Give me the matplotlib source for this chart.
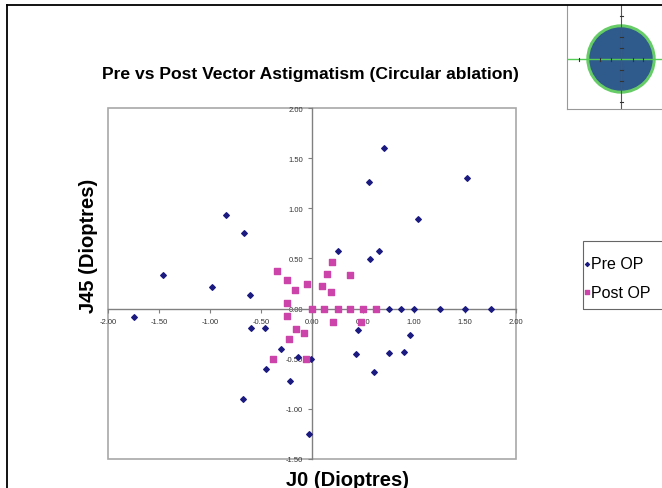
'''Pre vs post vector astigmatism scatter.'''
import matplotlib
matplotlib.use('Agg')
import matplotlib.pyplot as plt
from matplotlib.patches import Rectangle, Circle
from matplotlib.lines import Line2D

# Pre OP (J0, J45)
pre_j0 = [-0.84, -0.67, -1.46, -0.98, -0.61, -1.75,
          0.71, 0.56, 1.52, 1.04, 0.25, 0.66, 0.57,
          0.75, 0.87, 1.00, 1.25, 1.50, 1.75,
          -0.60, -0.46, -0.30, -0.14, -0.01, -0.45, -0.22, -0.68, -0.03,
          0.45, 0.43, 0.75, 0.90, 0.96, 0.61]
pre_j45 = [0.93, 0.75, 0.33, 0.22, 0.14, -0.08,
           1.60, 1.26, 1.30, 0.89, 0.57, 0.57, 0.49,
           0.00, 0.00, 0.00, 0.00, 0.00, 0.00,
           -0.19, -0.19, -0.40, -0.48, -0.50, -0.60, -0.72, -0.90, -1.25,
           -0.21, -0.45, -0.44, -0.43, -0.26, -0.63]

# Post OP (J0, J45)
post_j0 = [-0.34, -0.25, -0.17, -0.05, -0.25, 0.00, -0.25,
           0.10, 0.15, 0.20, 0.19, 0.37,
           0.12, 0.25, 0.37, 0.50, 0.63,
           -0.16, -0.08, -0.23, -0.38, -0.06, 0.21, 0.48]
post_j45 = [0.37, 0.28, 0.19, 0.25, 0.06, 0.00, -0.07,
            0.23, 0.34, 0.46, 0.17, 0.33,
            0.00, 0.00, 0.00, 0.00, 0.00,
            -0.20, -0.24, -0.30, -0.50, -0.50, -0.13, -0.13]

x_ticks = [-2.0, -1.5, -1.0, -0.5, 0.0, 0.5, 1.0, 1.5, 2.0]
y_ticks = [-1.5, -1.0, -0.5, 0.0, 0.5, 1.0, 1.5, 2.0]

W, H = 662, 489
fig = plt.figure(figsize=(W / 100, H / 100), dpi=100)
plt.rcParams['font.family'] = ['Liberation Sans', 'DejaVu Sans']

ax = fig.add_axes([108 / W, 1 - 460 / H, 408 / W, 351 / H])
ax.scatter(pre_j0, pre_j45, marker='D', s=8, color='#1a1a80', label='Pre OP', zorder=3)
ax.scatter(post_j0, post_j45, marker='s', s=14, color='#cc44aa', label='Post OP', zorder=3)
ax.set_xlim(-2, 2)
ax.set_ylim(-1.5, 2)
ax.set_xticks(x_ticks)
ax.set_yticks(y_ticks)
ax.set_xticklabels([f'{v:.2f}' for v in x_ticks])
ax.set_yticklabels([f'{v:.2f}' for v in y_ticks])
ax.tick_params(labelsize=5.5, labelcolor='#333333', color='#808080', length=3, width=0.8)

# axes cross at zero, grey frame round the plot area
ax.spines['left'].set_position(('data', 0))
ax.spines['bottom'].set_position(('data', 0))
for s in ['left', 'bottom']:
    ax.spines[s].set_color('#808080')
    ax.spines[s].set_linewidth(1.0)
ax.spines['top'].set_visible(False)
ax.spines['right'].set_visible(False)
ax.add_patch(Rectangle((0, 0), 1, 1, transform=ax.transAxes, fill=False,
                       edgecolor='#a8a8a8', linewidth=1.2, clip_on=False))

fig.text(310 / W, 1 - 75 / H, 'Pre vs Post Vector Astigmatism (Circular ablation)',
         ha='center', va='center', fontsize=12.6, fontweight='bold')
fig.text(88 / W, 1 - 246 / H, 'J45 (Dioptres)', rotation=90,
         ha='center', va='center', fontsize=14.5, fontweight='bold')
fig.text(348 / W, 1 - 481 / H, 'J0 (Dioptres)',
         ha='center', va='center', fontsize=14.5, fontweight='bold')

# legend without its own frame, box drawn separately
leg = ax.legend(loc='upper left', bbox_to_anchor=(585 / W, 1 - 257 / H),
                bbox_transform=fig.transFigure, fontsize=11.5, frameon=False,
                handlelength=0.2, handletextpad=0.15, markerscale=0.7,
                borderpad=0, labelspacing=0.85, borderaxespad=0)
fig.add_artist(Rectangle((583 / W, 1 - 310 / H), 85 / W, 68 / H, fill=False,
                         edgecolor='#666666', linewidth=0.8))

# page frame lines
fig.add_artist(Line2D([7 / W, 1], [1 - 6 / H, 1 - 6 / H], color='black', linewidth=1.3))
fig.add_artist(Line2D([7 / W, 7 / W], [0, 1 - 6 / H], color='black', linewidth=1.3))

# small inset picture of the ablation
ins = fig.add_axes([567 / W, 1 - 110 / H, 95 / W, 104 / H])
ins.set_xlim(-54, 41)
ins.set_ylim(-50, 54)
ins.set_xticks([])
ins.set_yticks([])
for s in ['top', 'right']:
    ins.spines[s].set_visible(False)
for s in ['left', 'bottom']:
    ins.spines[s].set_color('#999999')
ins.add_patch(Circle((0, 0), 34, color='#66cc66'))
ins.add_patch(Circle((0, 0), 31, color='#2e5a8c'))
ins.plot([-54, 41], [0, 0], color='#55cc55', linewidth=1)
ins.plot([0, 0], [-50, 54], color='#555555', linewidth=0.8)
for t in [-43, -22, -11, 11, 22, 43]:
    ins.plot([-1.5, 1.5], [t, t], color='#333333', linewidth=0.8)
for t in [-42, -21, -10, 12, 22]:
    ins.plot([t, t], [-1.5, 1.5], color='#333333', linewidth=0.8)

fig.savefig('out.png', dpi=100)
